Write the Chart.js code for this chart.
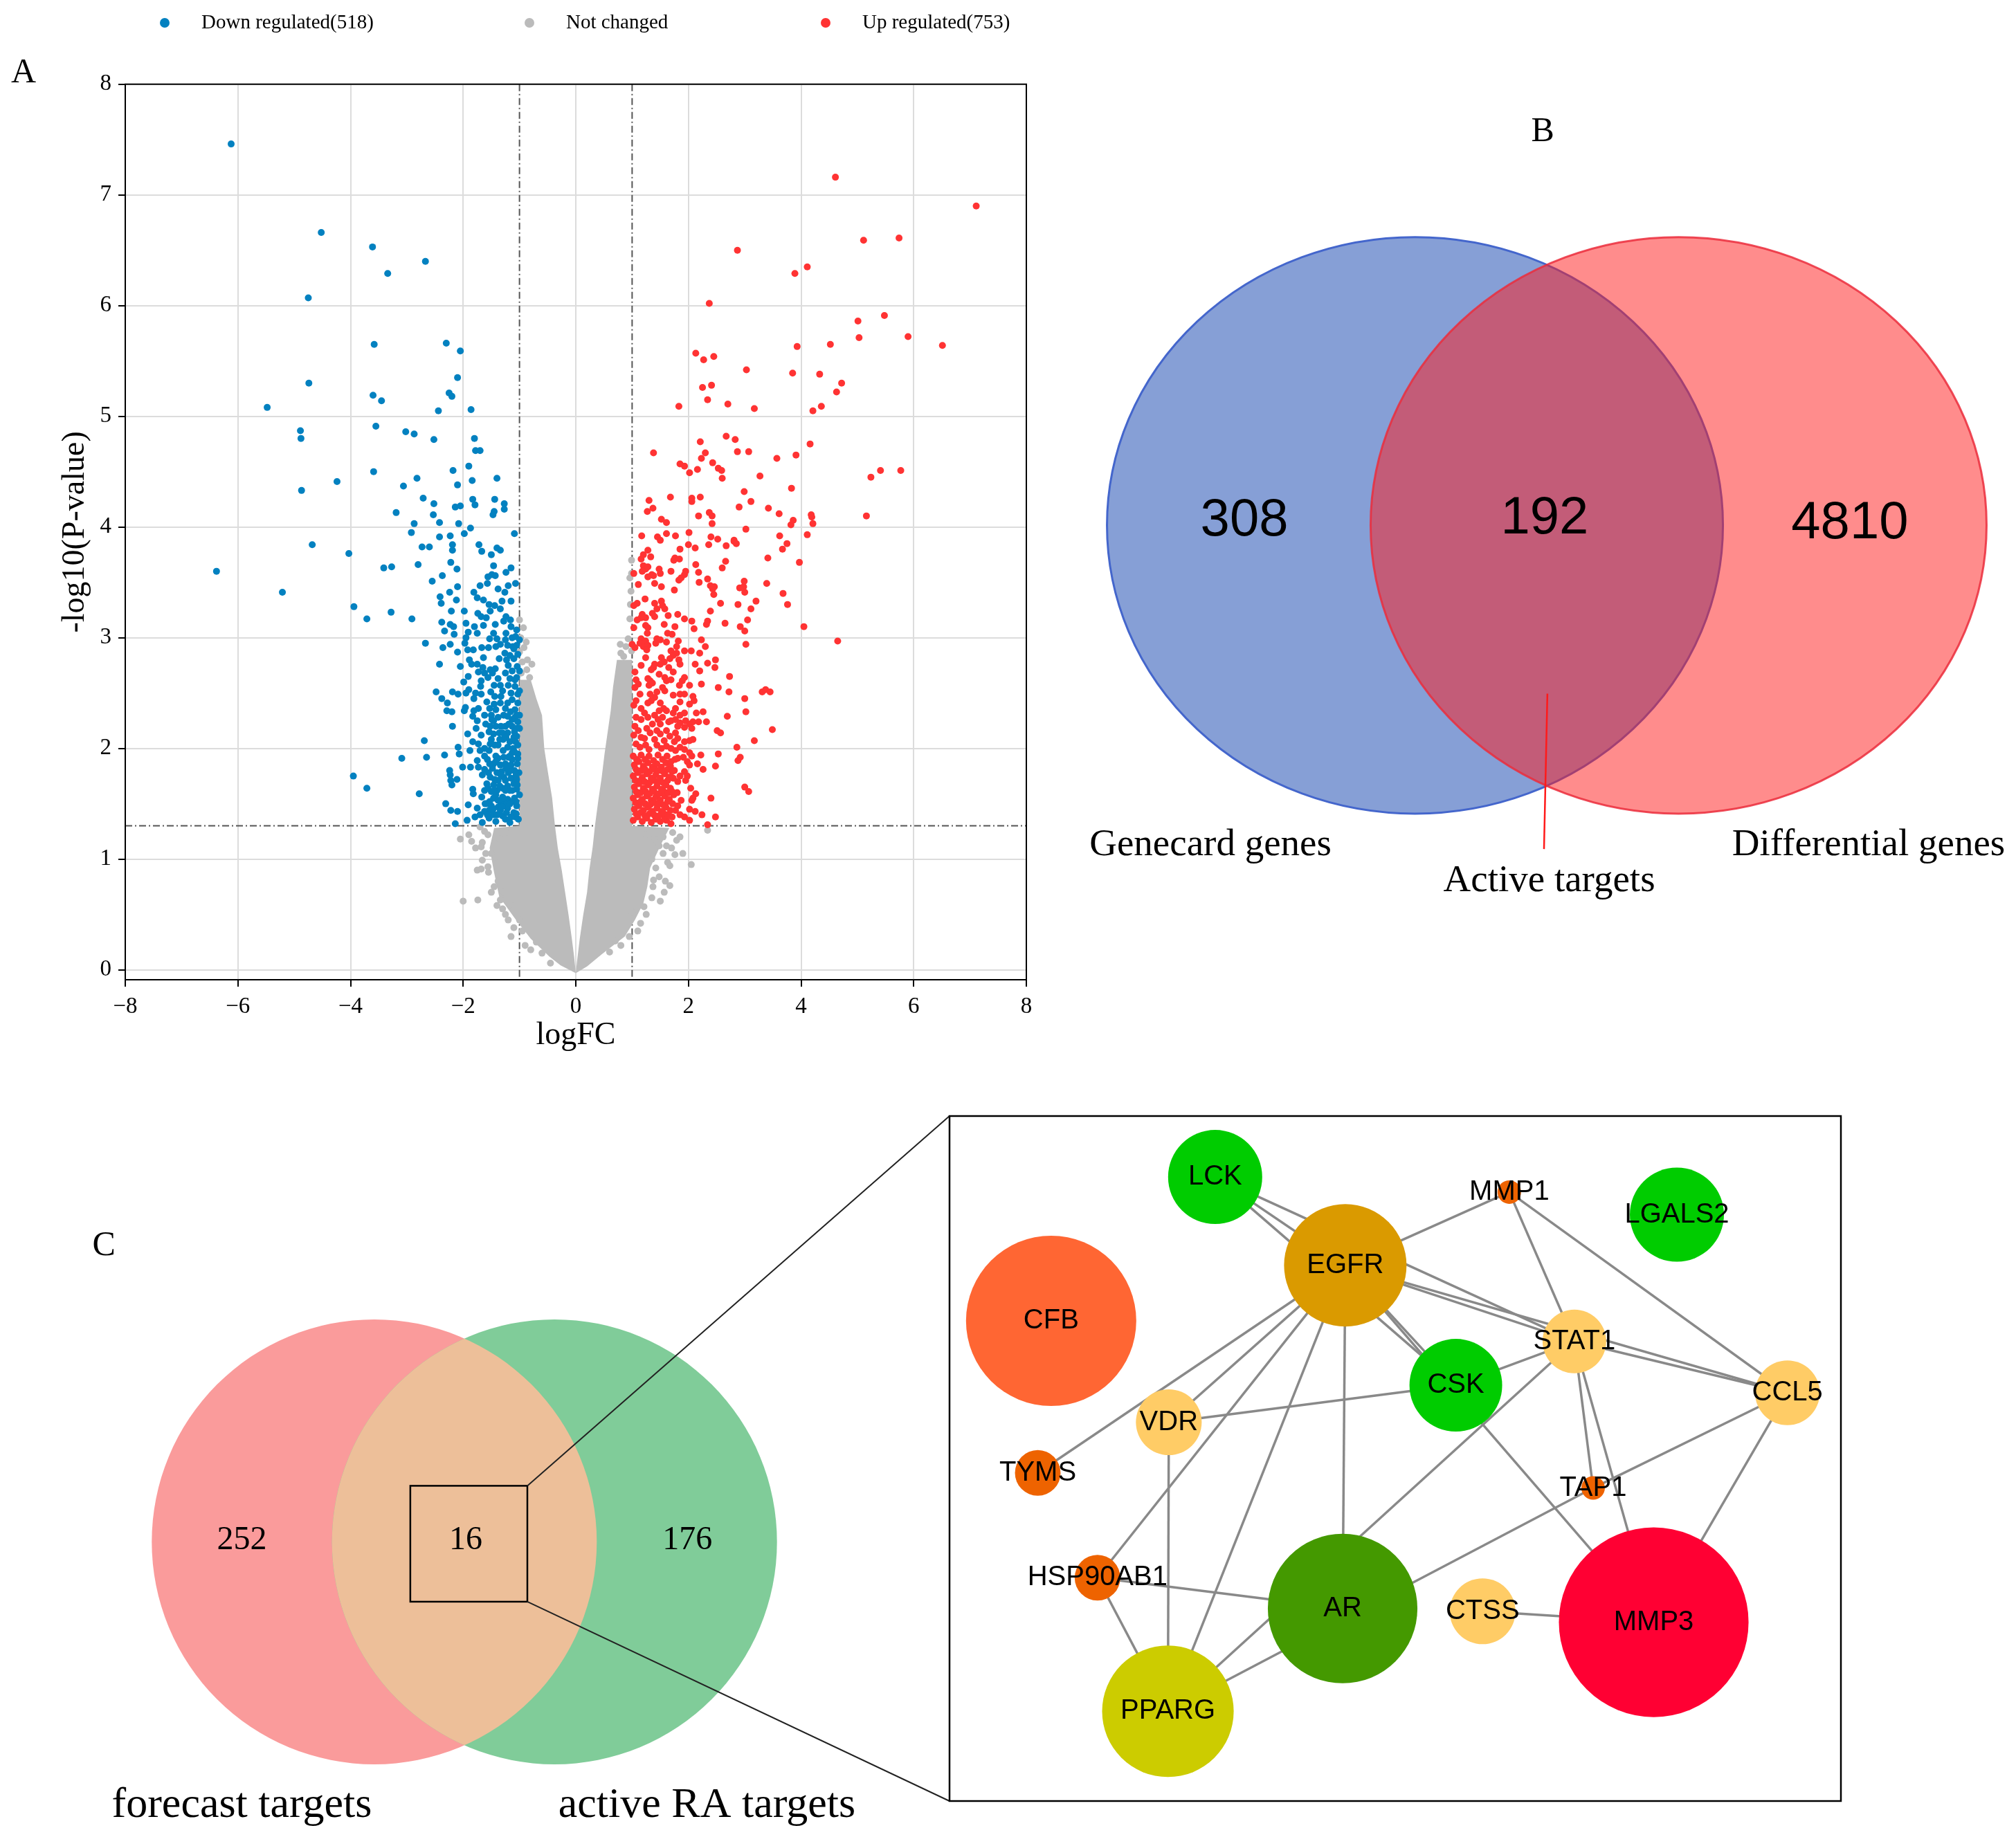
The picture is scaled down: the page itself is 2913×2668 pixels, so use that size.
<!DOCTYPE html>
<html lang="en">
<head>
<meta charset="utf-8">
<title>Volcano plot, Venn diagrams and PPI network</title>
<script src="https://cdn.jsdelivr.net/npm/chart.js@4.4.1/dist/chart.umd.min.js"></script>
<style>
  html, body { margin: 0; padding: 0; background: #fff; }
  body { position: relative; width: 2913px; height: 2668px; overflow: hidden; }
  .panel { position: absolute; }
</style>
</head>
<body>
<div class="panel" style="left:0;top:0;width:1510px;height:1560px;"><canvas id="volcanoChart"></canvas></div>
<div class="panel" style="left:1520px;top:0;width:1393px;height:1400px;"><canvas id="vennBChart"></canvas></div>
<div class="panel" style="left:0;top:1560px;width:1400px;height:1108px;"><canvas id="vennCChart"></canvas></div>
<div class="panel" style="left:1360px;top:1560px;width:1553px;height:1108px;"><canvas id="networkChart"></canvas></div>
<script>
// ---------------- data ----------------
const downCount = 518;
const upCount = 753;
const fcCutoffs = [-1, 1];
const pCutoff = 1.3;
const xTicks = [-8, -6, -4, -2, 0, 2, 4, 6, 8];
const yTicks = [0, 1, 2, 3, 4, 5, 6, 7, 8];

// logFC, -log10(P) pairs
const downRegulated = [
  -6.12,7.46, -4.52,6.66, -3.61,6.53, -2.67,6.40, -3.34,6.29, -4.75,6.07, -3.58,5.65, -2.30,5.66, -2.05,5.59, -2.10,5.35,
  -4.74,5.30, -3.60,5.19, -2.25,5.21, -2.20,5.18, -3.45,5.14, -5.48,5.08, -2.44,5.05, -1.86,5.06, -3.55,4.91, -4.89,4.87,
  -4.88,4.80, -3.02,4.86, -2.87,4.84, -2.52,4.79, -1.80,4.80, -1.78,4.69, -1.70,4.69, -1.90,4.55, -2.18,4.51, -3.59,4.50,
  -1.40,4.44, -1.84,4.42, -2.10,4.38, -4.24,4.41, -2.82,4.44, -3.06,4.37, -4.87,4.33, -2.71,4.26, -2.52,4.21, -1.83,4.25,
  -1.79,4.20, -1.44,4.25, -1.27,4.21, -1.27,4.16, -1.45,4.14, -1.47,4.11, -2.14,4.18, -2.05,4.19, -3.19,4.13, -2.53,4.11,
  -2.42,4.04, -2.87,4.03, -2.08,4.03, -1.87,3.99, -2.92,3.95, -2.42,3.91, -2.23,3.92, -1.98,3.94, -1.09,3.94,
  -4.68,3.84, -6.38,3.60, -5.21,3.41, -4.03,3.76,
  -2.73,3.82, -2.60,3.82, -2.19,3.84, -2.19,3.79, -1.72,3.84, -1.67,3.78, -1.50,3.75, -1.40,3.81, -1.34,3.79, -3.41,3.63,
  -3.27,3.64, -2.80,3.66, -2.22,3.68, -2.11,3.62, -1.46,3.65, -1.15,3.63, -1.24,3.59, -2.37,3.56, -2.55,3.51, -1.56,3.55,
  -1.49,3.57, -1.43,3.56, -2.10,3.46, -1.70,3.47, -1.57,3.49, -1.38,3.44, -1.20,3.47, -1.07,3.49, -1.81,3.41, -2.24,3.41,
  -2.41,3.37, -2.39,3.31, -2.12,3.34, -1.75,3.36, -1.64,3.34, -1.26,3.41, -1.31,3.33, -1.15,3.33, -1.54,3.30, -1.44,3.29,
  -1.34,3.26, -3.94,3.28, -3.28,3.23, -3.71,3.17, -2.91,3.17, -2.21,3.24, -1.98,3.24, -1.74,3.22, -1.68,3.19, -1.59,3.18,
  -1.52,3.24, -1.24,3.19, -1.16,3.16, -2.38,3.14, -2.23,3.12, -2.17,3.10, -2.33,3.06, -2.16,3.03, -1.95,3.13, -1.80,3.10,
  -1.64,3.11, -1.43,3.12, -1.28,3.15, -1.15,3.10, -1.05,3.07, -1.91,3.05, -1.75,3.04, -1.46,3.04, -1.24,3.04, -1.95,3.00,
  -1.53,2.99, -1.40,2.99, -1.25,2.98, -1.13,3.00, -1.07,3.01, -2.67,2.95, -2.23,2.94, -2.36,2.91, -1.97,2.95, -2.10,2.87,
  -1.92,2.89, -1.82,2.89, -1.67,2.91, -1.55,2.91, -1.42,2.92, -1.34,2.94, -1.21,2.93, -1.12,2.92, -1.05,2.93, -1.26,2.86,
  -1.17,2.84, -1.03,2.85, -2.42,2.76, -2.05,2.74, -1.89,2.80, -1.64,2.82, -1.36,2.81, -1.23,2.80, -1.10,2.81, -1.85,2.76,
  -1.75,2.76, -1.65,2.73, -1.52,2.71, -1.43,2.72, -1.20,2.75, -1.04,2.74, -1.73,2.69, -1.62,2.68, -1.48,2.68, -1.25,2.68,
  -1.13,2.70, -1.91,2.65, -1.99,2.60, -1.68,2.61, -1.56,2.64, -1.38,2.63, -1.17,2.63, -1.05,2.64, -1.69,2.56, -1.45,2.57,
  -1.34,2.57, -1.20,2.57, -1.08,2.56, -2.48,2.51, -2.19,2.51, -2.09,2.49, -1.95,2.50, -1.90,2.53, -1.78,2.50, -1.68,2.49,
  -1.51,2.51, -1.33,2.47, -1.15,2.50, -1.03,2.49, -2.38,2.45, -1.81,2.45, -1.44,2.47, -1.13,2.44, -2.28,2.41, -1.34,2.41,
  -1.21,2.41, -1.03,2.41, -2.29,2.34, -2.20,2.33, -1.98,2.34, -1.96,2.37, -1.81,2.34, -1.73,2.36, -1.53,2.36, -1.42,2.35,
  -1.25,2.36, -1.08,2.35, -1.83,2.29, -1.75,2.25, -1.62,2.30, -1.50,2.30, -1.49,2.26, -1.38,2.28, -1.21,2.29, -1.13,2.26,
  -1.03,2.24, -2.19,2.20, -1.52,2.20, -1.42,2.20, -1.25,2.20, -1.13,2.20, -1.05,2.18, -1.92,2.13, -1.54,2.15, -1.46,2.13,
  -1.36,2.14, -1.21,2.14, -1.05,2.11, -2.69,2.07, -1.50,2.08, -1.29,2.08, -1.17,2.06, -2.09,2.01, -1.73,2.04, -1.62,2.00,
  -1.52,2.04, -1.38,2.03, -1.21,2.01, -1.11,2.00, -1.03,2.03, -1.88,1.98, -1.70,1.98, -1.54,1.98, -1.29,1.98, -1.13,1.96,
  -1.03,1.95, -3.09,1.91, -2.65,1.92, -2.33,1.94, -2.07,1.95, -1.62,1.93, -1.42,1.93,
  -3.95,1.75, -3.71,1.64, -2.78,1.59, -2.24,1.80, -2.23,1.76, -2.22,1.71, -2.20,1.67, -2.11,1.72, -2.01,1.83, -1.87,1.83,
  -1.75,1.89, -1.73,1.83, -1.66,1.76, -1.62,1.81, -1.57,1.90, -1.46,1.86, -1.38,1.91, -1.32,1.79, -1.25,1.86, -1.15,1.85,
  -1.13,1.90, -1.03,1.91, -1.83,1.63, -1.82,1.59, -1.58,1.68, -1.52,1.74, -1.46,1.67, -1.38,1.71, -1.25,1.71, -1.15,1.73,
  -1.05,1.72, -1.50,1.61, -1.40,1.62, -1.17,1.62, -1.05,1.63, -1.46,1.55, -1.30,1.56, -1.21,1.54, -1.09,1.55, -2.31,1.50,
  -1.91,1.49, -1.75,1.46, -1.58,1.50, -1.54,1.44, -1.38,1.47, -1.21,1.46, -1.05,1.48, -2.22,1.44, -2.10,1.43, -1.93,1.35,
  -1.79,1.38, -1.66,1.33, -1.54,1.37, -1.42,1.34, -1.30,1.39, -1.17,1.33, -1.07,1.38, -2.14,1.32, -1.46,1.40,
  -1.10,1.42, -1.12,1.52, -1.00,1.58, -1.26,1.50, -1.34,1.44, -1.34,1.52, -1.42,1.58, -1.30,1.64, -1.21,1.66, -1.10,1.68,
  -1.01,1.78, -1.09,1.80, -1.20,1.78, -1.28,1.74, -1.40,1.78, -1.34,1.85, -1.20,1.92, -1.09,1.97, -1.48,1.82, -1.02,1.36,
  -1.25,1.36, -1.50,1.48, -1.62,1.43, -1.67,1.56, -1.62,1.62, -1.70,1.40, -1.00,2.30, -1.08,2.28, -1.16,2.33, -1.00,2.52,
  -1.08,2.62, -1.00,2.70, -1.10,2.90, -1.00,2.98, -1.30,2.52, -1.28,2.30, -1.00,2.18, -1.10,2.10, -1.30,2.14, -1.45,2.40,
  -1.58,2.42, -1.60,2.22, -1.68,2.12, -1.77,2.18, -1.83,2.06,
  -1.06,1.41, -1.15,1.38, -1.23,1.42, -1.31,1.47, -1.40,1.40, -1.47,1.45, -1.57,1.40, -1.06,1.52, -1.17,1.50, -1.29,1.55,
  -1.38,1.53, -1.53,1.52, -1.61,1.50, -1.04,1.67, -1.13,1.62, -1.25,1.62, -1.35,1.66, -1.45,1.62, -1.56,1.64, -1.06,1.76,
  -1.16,1.80, -1.24,1.82, -1.33,1.76, -1.44,1.72, -1.55,1.78, -1.04,1.86, -1.17,1.93, -1.28,1.92, -1.42,1.88, -1.53,1.86,
  -1.07,2.06, -1.24,2.10, -1.35,2.08, -1.44,2.03, -1.09,2.15, -1.19,2.22, -1.33,2.20, -1.46,2.25, -1.05,2.30
];

const upRegulated = [
  4.61,7.16, 7.11,6.90, 5.11,6.59, 5.74,6.61, 2.87,6.50, 3.89,6.29, 4.11,6.35, 2.37,6.02, 5.01,5.86, 5.48,5.91,
  5.03,5.71, 5.90,5.72, 6.51,5.64, 4.52,5.65, 3.93,5.63, 2.13,5.57, 2.27,5.51, 2.45,5.54, 3.03,5.42, 3.85,5.39,
  4.33,5.38, 4.72,5.30, 4.63,5.22, 2.25,5.26, 2.41,5.28, 2.34,5.15, 1.83,5.09, 2.70,5.11, 3.17,5.07, 4.21,5.05,
  4.36,5.09, 2.67,4.82, 2.83,4.79, 2.21,4.77, 4.16,4.75, 1.38,4.67, 2.30,4.67, 2.87,4.68, 3.07,4.68, 2.23,4.62,
  3.57,4.62, 3.91,4.65, 1.85,4.57, 1.93,4.55, 2.43,4.58, 2.53,4.53, 2.59,4.51, 2.16,4.52, 2.02,4.49, 2.60,4.44,
  3.27,4.46, 5.24,4.45, 5.41,4.51, 5.77,4.51, 2.99,4.32, 3.83,4.35, 1.30,4.24, 1.68,4.27, 2.06,4.26, 2.06,4.23,
  2.21,4.27, 1.27,4.14, 1.37,4.17, 2.90,4.18, 3.11,4.23, 3.42,4.17, 3.61,4.12, 2.37,4.13, 2.42,4.10, 2.18,4.10,
  1.52,4.07, 1.61,4.04, 2.42,4.03, 3.82,4.02, 3.86,4.06, 4.18,4.11, 4.19,4.09, 4.21,4.03, 5.16,4.10, 3.02,3.98,
  1.17,3.92, 1.45,3.91, 1.61,3.94, 1.77,3.92, 2.01,3.95, 2.40,3.91, 2.52,3.89, 2.81,3.88, 3.62,3.92, 4.11,3.93,
  4.65,2.97,
  1.50,3.88, 2.36,3.84, 2.67,3.83, 2.81,3.87, 2.85,3.85, 3.75,3.85, 3.67,3.80, 1.28,3.79, 1.85,3.80, 2.00,3.84,
  2.12,3.81, 1.76,3.72, 1.74,3.70, 1.84,3.71, 1.33,3.73, 1.16,3.71, 1.20,3.75, 3.41,3.72, 3.97,3.68, 2.66,3.69,
  2.60,3.63, 2.13,3.66, 1.20,3.65, 1.24,3.62, 1.28,3.64, 1.18,3.60, 1.35,3.57, 1.28,3.55, 1.38,3.56, 1.48,3.62,
  1.50,3.58, 1.69,3.60, 1.95,3.60, 1.93,3.57, 1.87,3.54, 1.83,3.52, 2.18,3.59, 1.03,3.58, 1.11,3.48, 1.40,3.49,
  1.52,3.46, 1.75,3.43, 2.19,3.50, 2.34,3.53, 2.39,3.47, 2.43,3.44, 2.46,3.46, 2.45,3.39, 2.91,3.45, 2.98,3.46,
  3.00,3.41, 2.99,3.51, 3.39,3.49, 3.68,3.40, 3.76,3.30, 3.20,3.33, 2.88,3.30, 2.57,3.31, 2.39,3.24, 3.11,3.26,
  3.05,3.16, 4.05,3.10, 1.23,3.35, 1.09,3.31, 1.03,3.29, 1.40,3.31, 1.52,3.33, 1.54,3.29, 1.58,3.26, 1.44,3.26,
  1.36,3.22, 1.18,3.21, 1.24,3.18, 1.16,3.18, 1.40,3.19, 1.64,3.20, 1.81,3.21, 1.93,3.17, 2.06,3.15, 1.09,3.16,
  1.03,3.09, 1.24,3.11, 1.28,3.09, 1.27,3.04, 1.57,3.12, 1.76,3.10, 2.10,3.08, 2.32,3.12, 2.34,3.15, 2.65,3.13,
  2.92,3.10, 3.00,3.06, 1.63,3.04, 1.71,3.03, 1.44,2.99, 1.50,2.98, 1.42,2.95, 1.16,2.99, 1.24,2.97, 1.14,2.95,
  1.20,2.92, 1.00,2.94, 1.05,2.91, 1.28,2.93, 1.26,2.89, 1.61,2.96, 1.82,2.97, 1.79,2.92, 2.23,2.98, 2.30,2.92,
  3.02,2.94, 1.69,2.88, 1.73,2.84, 1.67,2.81, 1.52,2.82, 1.57,2.78, 1.50,2.76, 1.24,2.82, 1.79,2.86, 1.83,2.80,
  1.85,2.76, 1.93,2.88, 2.05,2.88, 2.20,2.86, 2.48,2.80, 2.34,2.77, 2.47,2.73, 2.12,2.76, 2.20,2.70, 2.73,2.65,
  1.40,2.76, 1.38,2.73, 1.34,2.71, 1.16,2.75, 1.05,2.69, 1.65,2.73, 1.73,2.69, 1.48,2.67, 1.58,2.64, 1.61,2.61,
  1.69,2.62, 1.93,2.64, 1.89,2.61, 1.84,2.57, 2.02,2.57, 2.23,2.58, 2.53,2.55, 2.72,2.51, 3.00,2.45, 3.31,2.51,
  3.37,2.53, 3.45,2.51, 1.28,2.63, 1.32,2.61, 1.30,2.57, 1.36,2.59, 1.07,2.62, 1.11,2.58, 1.05,2.55, 1.54,2.55,
  1.58,2.52, 1.44,2.51, 1.73,2.48, 1.85,2.49, 1.93,2.49, 2.08,2.47, 2.10,2.43, 2.02,2.40, 1.85,2.42, 1.32,2.49,
  1.40,2.46, 1.34,2.43, 1.28,2.41, 1.14,2.49, 1.07,2.43, 1.03,2.39, 1.16,2.36, 1.50,2.41, 1.56,2.36, 1.48,2.34,
  1.61,2.34, 1.77,2.36, 1.73,2.32, 1.85,2.30, 1.93,2.32, 2.14,2.32, 2.26,2.33, 2.32,2.24, 3.02,2.33, 2.69,2.29,
  1.22,2.32, 1.28,2.28, 1.16,2.26, 1.07,2.28, 1.40,2.30, 1.46,2.26, 1.36,2.22, 1.54,2.28, 1.65,2.24, 1.69,2.25,
  1.50,2.22, 1.77,2.26, 1.85,2.23, 1.81,2.20, 1.95,2.25, 2.02,2.22, 2.08,2.24, 2.18,2.24, 2.06,2.18, 1.93,2.19,
  2.51,2.16, 2.57,2.14, 3.49,2.17, 1.05,2.20, 1.11,2.16, 1.03,2.12, 1.16,2.10, 1.26,2.18, 1.32,2.14, 1.22,2.09,
  1.44,2.16, 1.50,2.13, 1.40,2.08, 1.61,2.16, 1.67,2.11, 1.57,2.07, 1.77,2.14, 1.81,2.09, 1.75,2.06, 1.93,2.06,
  2.02,2.07, 2.08,2.08, 2.86,2.01, 3.17,2.07, 1.07,2.04, 1.14,2.01, 1.24,2.03, 1.30,1.99, 1.44,2.03, 1.52,2.00,
  1.61,2.02, 1.69,2.00, 1.77,1.98, 1.85,2.01, 1.93,1.99, 2.02,1.96, 2.22,1.94, 2.53,1.95, 2.92,1.92,
  2.06,1.93, 1.81,1.91, 1.91,1.92, 1.98,1.88, 2.02,1.85, 2.16,1.86, 2.26,1.81, 2.48,1.84, 2.88,1.89, 3.00,1.65,
  3.07,1.61, 1.75,1.80, 1.85,1.75, 1.93,1.79, 1.98,1.75, 1.73,1.73, 1.81,1.70, 1.95,1.71, 2.04,1.64, 2.13,1.59,
  2.06,1.53, 2.08,1.55, 2.40,1.55, 1.87,1.53, 1.81,1.48, 1.77,1.44, 2.02,1.45, 2.12,1.43, 2.24,1.40, 1.93,1.38,
  2.02,1.35, 2.48,1.38, 2.34,1.31, 1.61,1.35, 1.69,1.32,
  1.02,1.35, 1.10,1.38, 1.18,1.34, 1.26,1.37, 1.34,1.33, 1.42,1.36, 1.50,1.34, 1.58,1.38, 1.04,1.45, 1.12,1.48,
  1.20,1.44, 1.28,1.47, 1.36,1.43, 1.44,1.46, 1.52,1.43, 1.60,1.47, 1.68,1.44, 1.02,1.55, 1.10,1.58, 1.18,1.54,
  1.26,1.57, 1.34,1.53, 1.42,1.56, 1.50,1.53, 1.58,1.57, 1.66,1.54, 1.74,1.58, 1.04,1.65, 1.12,1.68, 1.20,1.64,
  1.28,1.67, 1.36,1.63, 1.44,1.66, 1.52,1.63, 1.60,1.67, 1.68,1.64, 1.02,1.75, 1.10,1.78, 1.18,1.74, 1.26,1.77,
  1.34,1.73, 1.42,1.76, 1.50,1.73, 1.58,1.77, 1.66,1.74, 1.04,1.85, 1.12,1.88, 1.20,1.84, 1.28,1.87, 1.36,1.83,
  1.44,1.86, 1.52,1.83, 1.60,1.87, 1.68,1.84, 1.02,1.93, 1.16,1.94, 1.30,1.93, 1.46,1.94, 1.62,1.93, 1.76,1.90,
  1.80,1.60, 1.72,1.50, 1.85,1.40,
  1.07,1.41, 1.15,1.42, 1.23,1.39, 1.31,1.41, 1.39,1.40, 1.47,1.39, 1.55,1.42, 1.63,1.40, 1.71,1.38, 1.06,1.51,
  1.15,1.52, 1.23,1.50, 1.32,1.49, 1.39,1.51, 1.47,1.50, 1.55,1.49, 1.63,1.52, 1.07,1.61, 1.15,1.60, 1.24,1.61,
  1.31,1.59, 1.39,1.61, 1.48,1.59, 1.55,1.62, 1.64,1.60, 1.71,1.61, 1.06,1.71, 1.15,1.71, 1.22,1.70, 1.31,1.69,
  1.39,1.71, 1.47,1.70, 1.55,1.69, 1.63,1.71, 1.07,1.81, 1.16,1.80, 1.23,1.81, 1.31,1.79, 1.40,1.81, 1.47,1.80,
  1.55,1.79, 1.63,1.81, 1.71,1.79, 1.08,1.90, 1.23,1.90, 1.38,1.89, 1.54,1.90, 1.69,1.88
];

// loose "not changed" points outside the dense core
const notChanged = [
  -1.00,3.16, -0.93,3.09, -0.98,3.00, -0.88,2.96, -0.92,2.91, -1.00,2.87, -0.95,2.78, -0.86,2.80, -0.78,2.76, -0.87,2.71,
  -0.97,2.68, -0.82,2.64,
  0.99,3.70, 0.99,3.58, 0.96,3.54, 0.98,3.42, 0.97,3.30, 0.96,3.17, 0.93,2.99, 0.79,2.94, 0.89,2.92, 0.99,2.88,
  0.80,2.86, 0.85,2.83,
  -2.05,1.18, -1.85,1.16, -1.66,1.15, -1.70,1.29, -1.62,1.25, -1.56,1.22, -1.68,1.11, -1.50,1.05, -1.66,0.99, -1.68,0.91,
  -1.56,0.93, -1.38,0.80, -1.45,0.75, -2.00,0.62, -1.74,0.63, -1.34,0.63, -1.17,0.59, -1.30,0.55, -1.20,0.45, -1.10,0.38,
  -0.95,0.35, -0.90,0.22, -0.60,0.15,
  -1.25,1.24, -1.35,1.18, -1.42,1.02, -1.55,0.88, -1.50,0.70, -1.40,0.58, -1.25,0.50, -1.15,0.30, -1.00,0.45, -0.80,0.18,
  -0.70,0.25, -0.45,0.06, -1.28,0.70, -1.60,1.05, -1.78,1.10, -1.90,1.22, -1.75,0.90,
  1.79,1.17, 2.34,1.26, 1.72,1.24, 1.55,1.20, 1.48,1.12, 1.61,1.12, 1.76,1.04, 2.05,0.95, 1.63,0.97, 1.67,0.94,
  1.35,1.00, 1.38,0.81, 1.48,0.84, 1.59,0.80, 1.67,0.76, 1.57,0.70, 1.37,0.75, 1.21,0.57, 1.15,0.42, 0.95,0.30,
  0.60,0.16,
  1.25,1.22, 1.40,1.18, 1.55,1.05, 1.42,0.92, 1.35,0.65, 1.25,0.50, 1.10,0.35, 0.80,0.22, 0.70,0.26, 1.00,0.52,
  1.70,1.10, 1.85,1.20, 1.90,1.05, 1.50,0.62
];

// outline of the dense, fully overlapping "not changed" cloud (two arms of the V)
const notChangedCoreLeft = [
  -1.00,2.62, -0.80,2.62, -0.70,2.45, -0.60,2.30, -0.56,2.00, -0.50,1.80, -0.42,1.55, -0.37,1.30, -0.32,1.10, -0.25,0.90,
  -0.19,0.70, -0.13,0.50, -0.07,0.28, -0.03,0.12, 0.00,-0.03, -0.27,0.04, -0.47,0.12, -0.80,0.28, -1.09,0.47, -1.36,0.66,
  -1.46,0.90, -1.53,1.10, -1.45,1.28, -1.00,1.30
];
const notChangedCoreRight = [
  0.73,2.80, 1.00,2.80, 1.00,1.30, 1.66,1.28, 1.50,1.12, 1.32,0.92, 1.27,0.75, 1.20,0.60, 1.05,0.45, 0.87,0.30,
  0.46,0.14, 0.20,0.03, 0.00,-0.03, 0.02,0.07, 0.07,0.28, 0.13,0.49, 0.20,0.70, 0.24,0.90, 0.30,1.11, 0.34,1.30,
  0.40,1.53, 0.46,1.74, 0.51,1.95, 0.62,2.34, 0.66,2.55
];

// Venn B
const vennBSets = ['Genecard genes', 'Differential genes'];
const vennBCounts = [308, 192, 4810];
const vennBOverlapName = 'Active targets';

// Venn C
const vennCSets = ['forecast targets', 'active RA targets'];
const vennCCounts = [252, 16, 176];

// PPI network (layout units 0-100 inside the frame)
const geneNames = ['LCK', 'EGFR', 'MMP1', 'LGALS2', 'CFB', 'STAT1', 'CSK', 'CCL5', 'VDR', 'TYMS', 'TAP1', 'HSP90AB1', 'AR', 'CTSS', 'MMP3', 'PPARG'];
const geneX = [29.8, 44.4, 62.8, 81.6, 11.4, 70.1, 56.8, 94.0, 24.6, 9.9, 72.2, 16.6, 44.1, 59.8, 79.0, 24.5];
const geneY = [8.9, 21.8, 11.1, 14.4, 29.9, 32.9, 39.3, 40.4, 44.7, 52.1, 54.3, 67.4, 71.9, 72.3, 73.9, 86.9];
const geneSize = [5.28, 6.87, 1.32, 5.28, 9.55, 3.57, 5.20, 3.63, 3.69, 2.56, 1.32, 2.56, 8.39, 3.69, 10.64, 7.38];
const interactions = [
  ['LCK', 'EGFR'], ['LCK', 'CSK'], ['LCK', 'STAT1'], ['EGFR', 'MMP1'], ['EGFR', 'STAT1'], ['EGFR', 'CCL5'],
  ['EGFR', 'CSK'], ['EGFR', 'MMP3'], ['EGFR', 'VDR'], ['EGFR', 'TYMS'], ['EGFR', 'HSP90AB1'], ['EGFR', 'PPARG'],
  ['EGFR', 'AR'], ['MMP1', 'STAT1'], ['MMP1', 'CCL5'], ['CSK', 'STAT1'], ['CSK', 'VDR'], ['STAT1', 'CCL5'],
  ['STAT1', 'TAP1'], ['STAT1', 'MMP3'], ['STAT1', 'PPARG'], ['CCL5', 'TAP1'], ['CCL5', 'MMP3'], ['TAP1', 'PPARG'],
  ['HSP90AB1', 'AR'], ['HSP90AB1', 'PPARG'], ['VDR', 'PPARG'], ['CTSS', 'MMP3']
];

// ---------------- styles ----------------
const SERIF = '"Liberation Serif", "Times New Roman", serif';
const SANS = '"Liberation Sans", Arial, sans-serif';
const BLUE = '#0381c0';
const RED = '#ff3333';
const GREY = '#bbbbbb';
const nodeColors = {
  LCK: '#00cc00', EGFR: '#da9a00', MMP1: '#ee6300', LGALS2: '#00cc00', CFB: '#ff6633', STAT1: '#ffcc66',
  CSK: '#00cc00', CCL5: '#ffcc66', VDR: '#ffcc66', TYMS: '#ee6300', TAP1: '#ee6300', HSP90AB1: '#ee6300',
  AR: '#449900', CTSS: '#ffcc66', MMP3: '#ff0033', PPARG: '#cccc00'
};

Chart.defaults.font.family = SERIF;
Chart.defaults.color = '#000';

function toPoints(flat) {
  const pts = [];
  for (let i = 0; i < flat.length; i += 2) pts.push({ x: flat[i], y: flat[i + 1] });
  return pts;
}

function text(ctx, str, x, y, font, align) {
  ctx.save();
  ctx.font = font;
  ctx.fillStyle = '#000';
  ctx.textAlign = align || 'center';
  ctx.textBaseline = 'middle';
  ctx.fillText(str, x, y);
  ctx.restore();
}

const hiddenAxes = (xr, yr, reverse) => ({
  x: { type: 'linear', min: xr[0], max: xr[1], display: false },
  y: { type: 'linear', min: yr[0], max: yr[1], display: false, reverse: !!reverse }
});

// ---------------- A: volcano ----------------
const volcanoDecor = {
  id: 'volcanoDecor',
  beforeDatasetsDraw(chart) {
    const { ctx, chartArea: a, scales: { x, y } } = chart;
    ctx.save();
    ctx.beginPath();
    ctx.rect(a.left, a.top, a.right - a.left, a.bottom - a.top);
    ctx.clip();
    // cut-off lines
    ctx.strokeStyle = '#555';
    ctx.lineWidth = 2;
    ctx.setLineDash([10, 4, 2, 4]);
    fcCutoffs.forEach(v => {
      const px = x.getPixelForValue(v);
      ctx.beginPath(); ctx.moveTo(px, a.top); ctx.lineTo(px, a.bottom); ctx.stroke();
    });
    const py = y.getPixelForValue(pCutoff);
    ctx.beginPath(); ctx.moveTo(a.left, py); ctx.lineTo(a.right, py); ctx.stroke();
    ctx.setLineDash([]);
    // dense grey cloud
    ctx.fillStyle = GREY;
    [notChangedCoreLeft, notChangedCoreRight].forEach(poly => {
      ctx.beginPath();
      for (let i = 0; i < poly.length; i += 2) {
        const px = x.getPixelForValue(poly[i]), pyv = y.getPixelForValue(poly[i + 1]);
        if (i === 0) ctx.moveTo(px, pyv); else ctx.lineTo(px, pyv);
      }
      ctx.closePath();
      ctx.fill();
    });
    ctx.restore();
  },
  afterDraw(chart) {
    const { ctx, chartArea: a } = chart;
    ctx.save();
    ctx.strokeStyle = '#000';
    ctx.lineWidth = 2;
    ctx.strokeRect(a.left, a.top, a.right - a.left, a.bottom - a.top);
    // legend row
    const slots = [[0, 238], [2, 765], [1, 1193]];
    slots.forEach(([di, mx]) => {
      const ds = chart.data.datasets[di];
      ctx.fillStyle = ds.backgroundColor;
      ctx.beginPath(); ctx.arc(mx, 33, 7, 0, Math.PI * 2); ctx.fill();
      text(ctx, ds.label, mx + 53, 33, `29px ${SERIF}`, 'left');
    });
    ctx.restore();
    text(ctx, 'A', 34, 106, `50px ${SERIF}`);
  }
};

new Chart(document.getElementById('volcanoChart'), {
  type: 'scatter',
  data: {
    datasets: [
      { label: `Down regulated(${downCount})`, data: toPoints(downRegulated), backgroundColor: BLUE, order: 1 },
      { label: `Up regulated(${upCount})`, data: toPoints(upRegulated), backgroundColor: RED, order: 2 },
      { label: 'Not changed', data: toPoints(notChanged), backgroundColor: GREY, order: 3 }
    ]
  },
  options: {
    responsive: true,
    maintainAspectRatio: false,
    animation: false,
    events: [],
    layout: { padding: { top: 121.7, right: 27, bottom: 0, left: 0 } },
    elements: { point: { radius: 5, hoverRadius: 5, borderWidth: 0 } },
    plugins: { legend: { display: false }, tooltip: { enabled: false } },
    scales: {
      x: {
        type: 'linear', min: -8, max: 8,
        afterFit: s => { s.height = 144; },
        afterBuildTicks: s => { s.ticks = xTicks.map(v => ({ value: v })); },
        ticks: {
          callback: v => (v < 0 ? '\u2212' + Math.abs(v) : String(v)),
          font: { family: SERIF, size: 33 }, color: '#000', padding: 10, maxRotation: 0, autoSkip: false
        },
        grid: { color: '#dcdcdc', lineWidth: 2, tickColor: '#000', tickLength: 10, tickWidth: 2 },
        border: { color: '#000', width: 2 },
        title: { display: true, text: 'logFC', color: '#000', font: { family: SERIF, size: 46 }, padding: { top: 0, bottom: 35 } }
      },
      y: {
        type: 'linear', min: -0.09, max: 8,
        afterFit: s => { s.width = 181; },
        afterBuildTicks: s => { s.ticks = yTicks.map(v => ({ value: v })); },
        ticks: { font: { family: SERIF, size: 33 }, color: '#000', padding: 10 },
        grid: { color: '#dcdcdc', lineWidth: 2, tickColor: '#000', tickLength: 10, tickWidth: 2 },
        border: { color: '#000', width: 2 },
        title: { display: true, text: '-log10(P-value)', color: '#000', font: { family: SERIF, size: 46 }, padding: { top: 81, bottom: 0 } }
      }
    }
  },
  plugins: [volcanoDecor]
});

// ---------------- B: Venn ----------------
const vennBLayout = {
  sets: [
    { cx: -0.428, cy: 0, r: 1, fill: '#869fd6', stroke: '#4466cc' },
    { cx: 0.428, cy: 0, r: 1, fill: 'rgba(255,25,25,0.5)', stroke: 'rgba(235,45,60,0.85)' }
  ],
  countAt: [[-0.982, 0.015], [-0.007, 0.022], [0.984, 0.005]],
  nameAt: [[-1.092, -1.109], [1.045, -1.109]],
  overlapNameAt: [0.008, -1.234],
  pointer: [[0.002, -0.584], [-0.009, -1.123]],
  letterAt: [-0.013, 1.365]
};

function ellipsePath(ctx, x, y, c) {
  const cx = x.getPixelForValue(c.cx), cy = y.getPixelForValue(c.cy);
  const rx = Math.abs(x.getPixelForValue(c.cx + c.r) - cx);
  const ry = Math.abs(y.getPixelForValue(c.cy + c.r) - cy);
  ctx.beginPath();
  ctx.ellipse(cx, cy, rx, ry, 0, 0, Math.PI * 2);
}

const vennBDecor = {
  id: 'vennBDecor',
  afterDatasetsDraw(chart) {
    const { ctx, scales: { x, y } } = chart;
    ctx.save();
    vennBLayout.sets.forEach(c => {
      ellipsePath(ctx, x, y, c);
      ctx.fillStyle = c.fill; ctx.fill();
      ctx.lineWidth = 3; ctx.strokeStyle = c.stroke; ctx.stroke();
    });
    vennBCounts.forEach((n, i) => {
      const [vx, vy] = vennBLayout.countAt[i];
      text(ctx, String(n), x.getPixelForValue(vx), y.getPixelForValue(vy), `76px ${SANS}`);
    });
    const [p0, p1] = vennBLayout.pointer;
    ctx.strokeStyle = '#ff1a1a'; ctx.lineWidth = 2.5;
    ctx.beginPath();
    ctx.moveTo(x.getPixelForValue(p0[0]), y.getPixelForValue(p0[1]));
    ctx.lineTo(x.getPixelForValue(p1[0]), y.getPixelForValue(p1[1]));
    ctx.stroke();
    vennBSets.forEach((name, i) => {
      const [vx, vy] = vennBLayout.nameAt[i];
      text(ctx, name, x.getPixelForValue(vx), y.getPixelForValue(vy), `55px ${SERIF}`);
    });
    text(ctx, vennBOverlapName, x.getPixelForValue(vennBLayout.overlapNameAt[0]), y.getPixelForValue(vennBLayout.overlapNameAt[1]), `55px ${SERIF}`);
    text(ctx, 'B', x.getPixelForValue(vennBLayout.letterAt[0]), y.getPixelForValue(vennBLayout.letterAt[1]), `50px ${SERIF}`);
    ctx.restore();
  }
};

new Chart(document.getElementById('vennBChart'), {
  type: 'scatter',
  data: { datasets: [{ data: [] }] },
  options: {
    responsive: true, maintainAspectRatio: false, animation: false, events: [],
    layout: { padding: { left: 47.5, right: 10.5, top: 92.7, bottom: 15.8 } },
    plugins: { legend: { display: false }, tooltip: { enabled: false } },
    scales: hiddenAxes([-1.5, 1.5], [-1.5, 1.6])
  },
  plugins: [vennBDecor]
});

// ---------------- C: Venn + zoom lines ----------------
const vennCLayout = {
  sets: [{ cx: -0.405, cy: 0, r: 1, fill: '#fa9b9b' }, { cx: 0.405, cy: 0, r: 1, fill: '#80cc99' }],
  overlapFill: '#edbf99',
  countAt: [[-1.0, 0.007], [0.006, 0.007], [1.002, 0.007]],
  nameAt: [[-1.0, -1.185], [1.09, -1.185]],
  box: [-0.243, -0.269, 0.283, 0.252],
  zoomTo: [[2.18, 1.914], [2.18, -1.165]],
  letterAt: [-1.62, 1.33]
};

const vennCDecor = {
  id: 'vennCDecor',
  afterDatasetsDraw(chart) {
    const { ctx, scales: { x, y } } = chart;
    const L = vennCLayout;
    ctx.save();
    L.sets.forEach(c => { ellipsePath(ctx, x, y, c); ctx.fillStyle = c.fill; ctx.fill(); });
    ctx.save();
    ellipsePath(ctx, x, y, L.sets[0]); ctx.clip();
    ellipsePath(ctx, x, y, L.sets[1]); ctx.fillStyle = L.overlapFill; ctx.fill();
    ctx.restore();
    const [bx0, by0, bx1, by1] = L.box;
    const X0 = x.getPixelForValue(bx0), X1 = x.getPixelForValue(bx1);
    const Y0 = y.getPixelForValue(by1), Y1 = y.getPixelForValue(by0);
    ctx.strokeStyle = '#000'; ctx.lineWidth = 2.5;
    ctx.strokeRect(X0, Y0, X1 - X0, Y1 - Y0);
    ctx.strokeStyle = '#222'; ctx.lineWidth = 2;
    ctx.beginPath();
    ctx.moveTo(X1, Y0); ctx.lineTo(x.getPixelForValue(L.zoomTo[0][0]), y.getPixelForValue(L.zoomTo[0][1]));
    ctx.moveTo(X1, Y1); ctx.lineTo(x.getPixelForValue(L.zoomTo[1][0]), y.getPixelForValue(L.zoomTo[1][1]));
    ctx.stroke();
    vennCCounts.forEach((n, i) => {
      const [vx, vy] = L.countAt[i];
      text(ctx, String(n), x.getPixelForValue(vx), y.getPixelForValue(vy), `48px ${SERIF}`);
    });
    vennCSets.forEach((name, i) => {
      const [vx, vy] = L.nameAt[i];
      text(ctx, name, x.getPixelForValue(vx), y.getPixelForValue(vy), `62px ${SERIF}`);
    });
    text(ctx, 'C', x.getPixelForValue(L.letterAt[0]), y.getPixelForValue(L.letterAt[1]), `50px ${SERIF}`);
    ctx.restore();
  }
};

new Chart(document.getElementById('vennCChart'), {
  type: 'scatter',
  data: { datasets: [{ data: [] }] },
  options: {
    responsive: true, maintainAspectRatio: false, animation: false, events: [],
    layout: { padding: { left: 28, right: 21.7, top: 25.4, bottom: 21.6 } },
    plugins: { legend: { display: false }, tooltip: { enabled: false } },
    scales: hiddenAxes([-2.0, 2.2], [-1.3, 2.0])
  },
  plugins: [vennCDecor]
});

// ---------------- C: PPI network ----------------
const geneIndex = Object.fromEntries(geneNames.map((g, i) => [g, i]));
const sizeToPx = (chart, v) => {
  const s = chart.scales.x;
  return Math.abs(s.getPixelForValue(v) - s.getPixelForValue(0));
};

const networkDecor = {
  id: 'networkDecor',
  beforeDatasetsDraw(chart) {
    const { ctx, scales: { x, y } } = chart;
    ctx.save();
    ctx.strokeStyle = '#898989';
    ctx.lineWidth = 3.5;
    interactions.forEach(([a, b]) => {
      const i = geneIndex[a], j = geneIndex[b];
      ctx.beginPath();
      ctx.moveTo(x.getPixelForValue(geneX[i]), y.getPixelForValue(geneY[i]));
      ctx.lineTo(x.getPixelForValue(geneX[j]), y.getPixelForValue(geneY[j]));
      ctx.stroke();
    });
    ctx.restore();
  },
  afterDatasetsDraw(chart) {
    const { ctx } = chart;
    chart.getDatasetMeta(0).data.forEach((el, i) => {
      text(ctx, geneNames[i], el.x, el.y, `40px ${SANS}`);
    });
  },
  afterDraw(chart) {
    const { ctx, chartArea: a } = chart;
    ctx.save();
    ctx.strokeStyle = '#000';
    ctx.lineWidth = 2.5;
    ctx.strokeRect(a.left, a.top, a.right - a.left, a.bottom - a.top);
    ctx.restore();
  }
};

new Chart(document.getElementById('networkChart'), {
  type: 'scatter',
  data: {
    datasets: [{
      data: geneNames.map((g, i) => ({ x: geneX[i], y: geneY[i] })),
      pointBackgroundColor: geneNames.map(g => nodeColors[g]),
      pointBorderWidth: 0,
      pointRadius: ctx => sizeToPx(ctx.chart, geneSize[ctx.dataIndex]),
      pointHoverRadius: ctx => sizeToPx(ctx.chart, geneSize[ctx.dataIndex]),
      clip: false
    }]
  },
  options: {
    responsive: true, maintainAspectRatio: false, animation: false, events: [],
    layout: { padding: { left: 12, right: 253, top: 53, bottom: 65 } },
    plugins: { legend: { display: false }, tooltip: { enabled: false } },
    scales: hiddenAxes([0, 100], [0, 100], true)
  },
  plugins: [networkDecor]
});
</script>
</body>
</html>
